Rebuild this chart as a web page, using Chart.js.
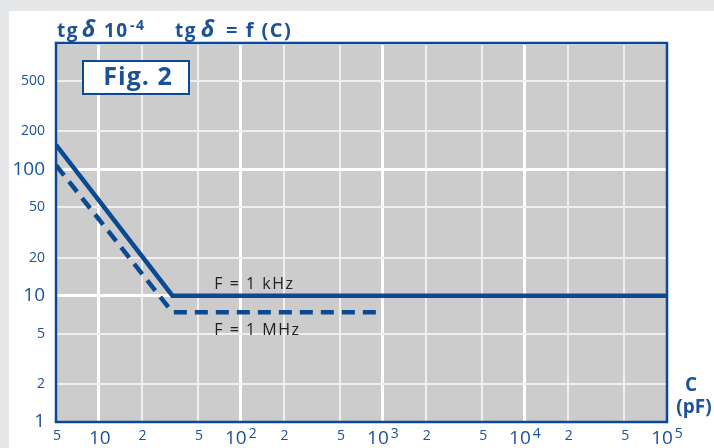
<!DOCTYPE html>
<html>
<head>
<meta charset="utf-8">
<script src="https://cdn.jsdelivr.net/npm/chart.js@4.4.1/dist/chart.umd.min.js"></script>
<style>
  html, body { margin: 0; padding: 0; background: #e6e7e9; }
  #panel { position: absolute; left: 9px; top: 11px; right: 0; bottom: 0; background: #fff; }
  #wrap { position: absolute; left: 0; top: 0; width: 714px; height: 448px; }
</style>
</head>
<body>
<div id="panel"></div>
<div id="wrap"><canvas id="chart" width="714" height="448"></canvas></div>
<script>
// tg delta (10^-4) vs capacitance C (pF), log-log
const xTicks = [5, 10, 20, 50, 100, 200, 500, 1000, 2000, 5000, 10000, 20000, 50000, 100000];
const xLabels = ['5', '10', '2', '5', ['10', '2'], '2', '5', ['10', '3'], '2', '5', ['10', '4'], '2', '5', ['10', '5']];
const yTicks = [1, 2, 5, 10, 20, 50, 100, 200, 500, 1000];
const yLabels = ['1', '2', '5', '10', '20', '50', '100', '200', '500', ''];

const kHzC = [5, 33, 100000];
const kHzTg = [156, 10, 10];
const MHzC = [5, 33, 1000];
const MHzTg = [108, 7.4, 7.4];

const BLUE = '#0b4a92';
const TXT = '#1b5196';
const FONT = '"Open Sans", "Noto Sans", sans-serif';

const pts = (xs, ys) => xs.map((x, i) => ({ x, y: ys[i] }));
const isDecade = v => Math.abs(Math.log10(v) - Math.round(Math.log10(v))) < 1e-9;

const frame = {
  id: 'frame',
  beforeDraw(chart) {
    const { ctx, chartArea: a } = chart;
    ctx.save();
    ctx.fillStyle = '#cccccc';
    ctx.fillRect(a.left, a.top, a.right - a.left, a.bottom - a.top);
    ctx.restore();
  },
  afterDraw(chart) {
    const { ctx, chartArea: a, scales } = chart;
    const sx = scales.x, sy = scales.y;
    ctx.save();
    // plot border
    ctx.strokeStyle = BLUE;
    ctx.lineWidth = 2.5;
    ctx.strokeRect(a.left, a.top, a.right - a.left, a.bottom - a.top);

    ctx.fillStyle = TXT;
    // y tick labels
    ctx.textAlign = 'right';
    ctx.textBaseline = 'middle';
    yTicks.forEach((v, i) => {
      if (!yLabels[i]) return;
      ctx.font = (isDecade(v) ? '19px ' : '14px ') + FONT;
      ctx.fillText(yLabels[i], 45, sy.getPixelForValue(v));
    });

    // x tick labels
    ctx.textBaseline = 'alphabetic';
    xTicks.forEach((v, i) => {
      const px = sx.getPixelForValue(v);
      const lab = xLabels[i];
      if (Array.isArray(lab)) {
        ctx.font = '19px ' + FONT;
        const w1 = ctx.measureText(lab[0]).width;
        ctx.font = '14px ' + FONT;
        const w2 = ctx.measureText(lab[1]).width;
        const x0 = px - (w1 + w2 + 2) / 2;
        ctx.textAlign = 'left';
        ctx.font = '19px ' + FONT;
        ctx.fillText(lab[0], x0, 444);
        ctx.font = '14px ' + FONT;
        ctx.fillText(lab[1], x0 + w1 + 2, 438);
      } else {
        ctx.textAlign = 'center';
        ctx.font = (isDecade(v) ? '19px ' : '14px ') + FONT;
        ctx.fillText(lab, px + 1, isDecade(v) ? 444 : 440);
      }
    });

    // title with mixed styles, pieces placed as in the original
    ctx.textAlign = 'left';
    ctx.letterSpacing = '1.5px';
    const parts = [
      ['tg', 'bold 19px ', 57, 37],
      ['\u03B4', 'italic bold 23px ', 82, 37],
      ['10', 'bold 19px ', 104, 37],
      ['-4', 'bold 14px ', 130, 30],
      ['tg', 'bold 19px ', 175, 37],
      ['\u03B4', 'italic bold 23px ', 201, 37],
      ['= f (C)', 'bold 20px ', 226, 37]
    ];
    parts.forEach(([s, f, x, y]) => {
      ctx.font = f + FONT;
      ctx.fillText(s, x, y);
    });

    // axis unit
    ctx.letterSpacing = '0px';
    ctx.textAlign = 'center';
    ctx.font = 'bold 19px ' + FONT;
    ctx.fillText('C', 691, 391);
    ctx.fillText('(pF)', 694, 413);

    // Fig. 2 box
    ctx.fillStyle = '#fff';
    ctx.fillRect(83, 61, 106, 33);
    ctx.strokeStyle = BLUE;
    ctx.lineWidth = 2;
    ctx.strokeRect(83, 61, 106, 33);
    ctx.fillStyle = TXT;
    ctx.letterSpacing = '1px';
    ctx.font = 'bold 25px ' + FONT;
    ctx.fillText('Fig. 2', 138, 85);

    // curve labels
    ctx.fillStyle = '#222';
    ctx.font = '16px ' + FONT;
    ctx.letterSpacing = '1.5px';
    ctx.textAlign = 'left';
    ctx.fillText('F = 1 kHz', sx.getPixelForValue(65), sy.getPixelForValue(11.2));
    ctx.fillText('F = 1 MHz', sx.getPixelForValue(65), sy.getPixelForValue(4.9));
    ctx.restore();
  }
};

const gridCfg = {
  color: ctx => (ctx.tick && isDecade(ctx.tick.value) ? '#ffffff' : '#efefef'),
  lineWidth: ctx => (ctx.tick && isDecade(ctx.tick.value) ? 3 : 2),
  drawTicks: false
};

new Chart(document.getElementById('chart'), {
  type: 'line',
  data: {
    datasets: [
      { label: 'F = 1 kHz', data: pts(kHzC, kHzTg), borderColor: BLUE, borderWidth: 4.5, pointRadius: 0, tension: 0, borderJoinStyle: 'miter' },
      { label: 'F = 1 MHz', data: pts(MHzC, MHzTg), borderColor: BLUE, borderWidth: 4.5, borderDash: [13, 8], pointRadius: 0, tension: 0 }
    ]
  },
  options: {
    responsive: false,
    animation: false,
    layout: { padding: { left: 56, top: 43, right: 47, bottom: 26 } },
    plugins: { legend: { display: false }, tooltip: { enabled: false } },
    scales: {
      x: {
        type: 'logarithmic', min: 5, max: 100000,
        afterBuildTicks: s => { s.ticks = xTicks.map(v => ({ value: v })); },
        afterFit: s => { s.height = 0; },
        ticks: { display: false },
        grid: gridCfg,
        border: { display: false }
      },
      y: {
        type: 'logarithmic', min: 1, max: 1000,
        afterBuildTicks: s => { s.ticks = yTicks.map(v => ({ value: v })); },
        afterFit: s => { s.width = 0; },
        ticks: { display: false },
        grid: gridCfg,
        border: { display: false }
      }
    }
  },
  plugins: [frame]
});
</script>
</body>
</html>
